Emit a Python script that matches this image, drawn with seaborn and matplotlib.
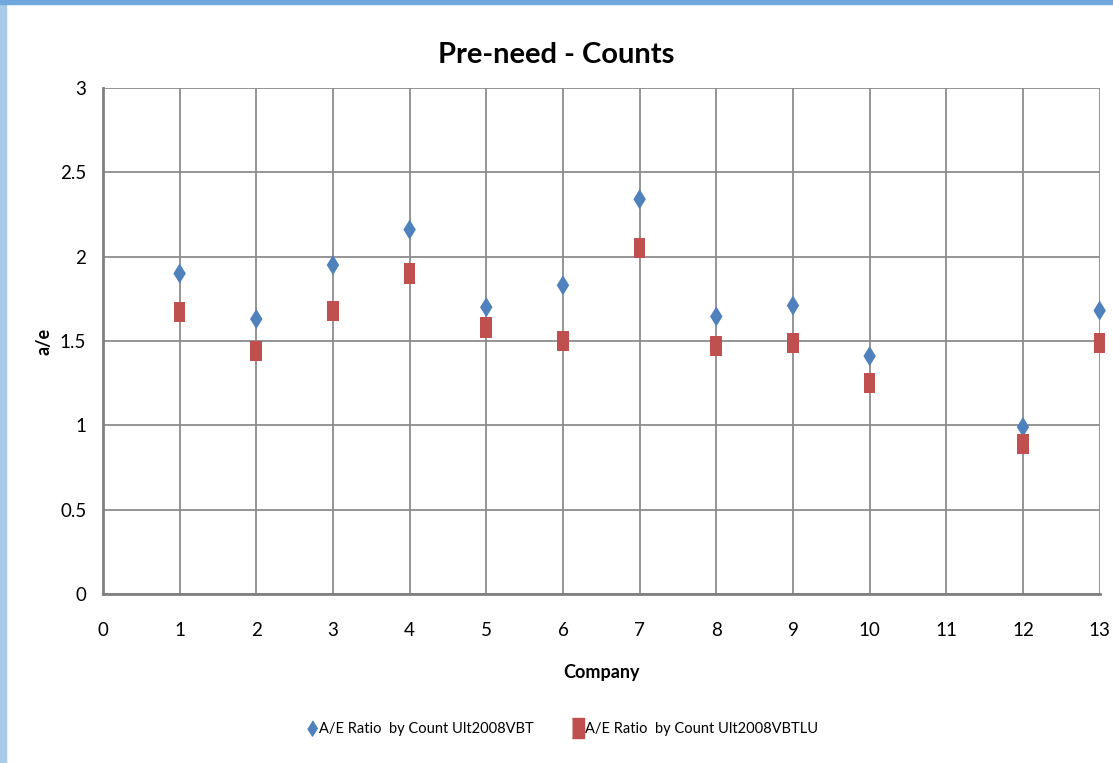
import matplotlib
matplotlib.use("Agg")
import matplotlib.pyplot as plt
import seaborn as sns
import pandas as pd
from matplotlib.patches import Rectangle
from matplotlib.lines import Line2D

companies = [1, 2, 3, 4, 5, 6, 7, 8, 9, 10, 12, 13]
ae_vbt = [1.90, 1.63, 1.95, 2.16, 1.70, 1.83, 2.34, 1.645, 1.71, 1.41, 0.99, 1.68]
ae_vbtlu = [1.67, 1.44, 1.68, 1.90, 1.58, 1.50, 2.05, 1.47, 1.49, 1.25, 0.89, 1.49]
series_names = ["A/E Ratio  by Count Ult2008VBT", "A/E Ratio  by Count Ult2008VBTLU"]
x_ticks = list(range(0, 14))
y_ticks = [0, 0.5, 1, 1.5, 2, 2.5, 3]
y_tick_labels = ["0", "0.5", "1", "1.5", "2", "2.5", "3"]

df = pd.DataFrame({
    "Company": companies * 2,
    "a/e": ae_vbt + ae_vbtlu,
    "Series": [series_names[0]] * len(companies) + [series_names[1]] * len(companies),
})

sns.set_theme(style="white")
plt.rcParams["font.family"] = ["Lato", "DejaVu Sans"]
plt.rcParams["text.color"] = "black"
plt.rcParams["axes.labelcolor"] = "black"

diamond = [(0, 1), (0.62, 0), (0, -1), (-0.62, 0)]
rect = [(-0.58, -1), (0.58, -1), (0.58, 1), (-0.58, 1)]
palette = {series_names[0]: "#4F81BD", series_names[1]: "#C0504D"}
markers = {series_names[0]: diamond, series_names[1]: rect}

fig = plt.figure(figsize=(11.13, 7.63), dpi=100)
ax = fig.add_axes([0.0925, 0.2215, 0.8955, 0.6633])

sns.scatterplot(data=df, x="Company", y="a/e", hue="Series", style="Series",
                palette=palette, markers=markers, s=210, linewidth=0,
                ax=ax, legend=False, zorder=3, clip_on=False)

ax.set_xlim(0, 13)
ax.set_ylim(0, 3)
ax.set_xticks(x_ticks)
ax.set_yticks(y_ticks)
ax.set_yticklabels(y_tick_labels)
ax.grid(True, color="#8C8C8C", linewidth=1.3)
ax.set_axisbelow(True)
for side in ["top", "right"]:
    ax.spines[side].set_visible(False)
for side in ["left", "bottom"]:
    ax.spines[side].set_color("#808080")
    ax.spines[side].set_linewidth(2)
ax.tick_params(axis="both", length=0, labelsize=13.5, colors="black")
ax.tick_params(axis="x", pad=20)
ax.tick_params(axis="y", pad=12)

ax.set_xlabel("Company", fontsize=13, fontweight="bold", labelpad=18)
ax.set_ylabel("a/e", fontsize=13, fontweight="bold")
ax.yaxis.set_label_coords(-0.051, 0.5)
fig.suptitle("Pre-need - Counts", fontsize=21, fontweight="bold", y=0.945)

handles = [
    Line2D([], [], marker=diamond, color="#4F81BD", linestyle="none", markersize=11),
    Line2D([], [], marker=rect, color="#C0504D", linestyle="none", markersize=14),
]
fig.legend(handles, series_names, loc="center", bbox_to_anchor=(0.505, 0.045),
           ncol=2, frameon=False, fontsize=10.5, handletextpad=0.1, columnspacing=2.6,
           handlelength=0.8)

# window frame strips
fig.patches.append(Rectangle((0, 0), 0.005, 1, transform=fig.transFigure,
                             color="#A9CBEA", zorder=10))
fig.patches.append(Rectangle((0, 0.995), 1, 0.005, transform=fig.transFigure,
                             color="#6FA8DC", zorder=10))

fig.savefig("out.png", dpi=100)
